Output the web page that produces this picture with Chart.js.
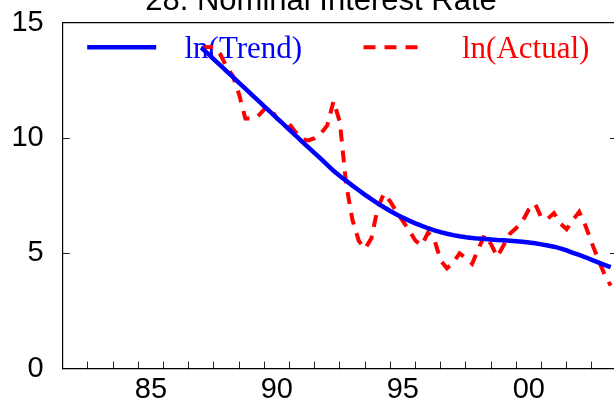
<!DOCTYPE html>
<html>
<head>
<meta charset="utf-8">
<script src="https://cdn.jsdelivr.net/npm/chart.js@4"></script>
<style>
  html, body { margin: 0; padding: 0; background: #fff; overflow: hidden; }
  #wrap { position: absolute; left: 0; top: -30px; width: 635px; height: 442px; }
</style>
</head>
<body>
<div id="wrap"><canvas id="chart" width="635" height="442"></canvas></div>
<script>
// quarterly observations, 1987Q3 - 2003Q4
var quarters = [
  '87Q3','87Q4',
  '88Q1','88Q2','88Q3','88Q4', '89Q1','89Q2','89Q3','89Q4',
  '90Q1','90Q2','90Q3','90Q4', '91Q1','91Q2','91Q3','91Q4',
  '92Q1','92Q2','92Q3','92Q4', '93Q1','93Q2','93Q3','93Q4',
  '94Q1','94Q2','94Q3','94Q4', '95Q1','95Q2','95Q3','95Q4',
  '96Q1','96Q2','96Q3','96Q4', '97Q1','97Q2','97Q3','97Q4',
  '98Q1','98Q2','98Q3','98Q4', '99Q1','99Q2','99Q3','99Q4',
  '00Q1','00Q2','00Q3','00Q4', '01Q1','01Q2','01Q3','01Q4',
  '02Q1','02Q2','02Q3','02Q4', '03Q1','03Q2','03Q3','03Q4'
];

var trend = [
  13.93, 13.68, 13.42, 13.17, 12.91, 12.66, 12.40, 12.15, 11.89, 11.64,
  11.38, 11.13, 10.87, 10.62, 10.36, 10.11, 9.85, 9.60, 9.35, 9.10,
  8.84, 8.58, 8.36, 8.15, 7.94, 7.74, 7.54, 7.35, 7.17, 7.00,
  6.84, 6.69, 6.55, 6.42, 6.30, 6.19, 6.09, 6.00, 5.92, 5.85,
  5.79, 5.74, 5.70, 5.67, 5.64, 5.62, 5.60, 5.58, 5.57, 5.55,
  5.53, 5.50, 5.47, 5.44, 5.39, 5.34, 5.29, 5.22, 5.13, 5.02,
  4.93, 4.83, 4.72, 4.61, 4.50, 4.40
];

var actual = [
  13.9, 13.95, 13.95, 13.65, 13.1, 12.7, 11.9, 10.85, 10.85, 10.95,
  11.25, 11.3, 10.85, 10.65, 10.6, 10.25, 9.95, 9.9, 10.0, 10.2,
  10.55, 11.6, 10.7, 8.0, 6.45, 5.55, 5.2, 5.65, 6.95, 7.6,
  7.25, 6.8, 6.4, 6.0, 5.55, 5.35, 5.9, 5.6, 4.7, 4.35,
  4.6, 5.0, 4.8, 4.55, 5.2, 5.8, 5.4, 4.85, 5.35, 5.85,
  6.1, 6.4, 6.9, 7.15, 6.55, 6.5, 6.75, 6.3, 6.05, 6.45,
  6.8, 6.2, 5.45, 4.75, 4.1, 3.6
];

var xRange = [1982, 2004];
var xLabelYears = [1985, 1990, 1995, 2000];
var xLabels = ['85', '90', '95', '00'];
var yTicks = [0, 5, 10, 15];

function quarterToYear(q) {
  var yy = parseInt(q.slice(0, 2), 10);
  var year = yy < 50 ? 2000 + yy : 1900 + yy;
  return year + (parseInt(q.slice(3), 10) - 1) / 4;
}

function points(values) {
  return quarters.map(function (q, i) {
    return { x: quarterToYear(q), y: values[i] };
  });
}

var sans = '"Liberation Sans", Arial, Helvetica, sans-serif';
var serif = '"Liberation Serif", "Times New Roman", serif';

// legend drawn inside the plot, under the lines
var insideLegend = {
  id: 'insideLegend',
  beforeDatasetsDraw: function (chart) {
    var ctx = chart.ctx, a = chart.chartArea;
    var items = [
      { ds: 0, x0: 24.5, len: 69, tx: 121.8 },
      { ds: 1, x0: 300.8, len: 57.5, tx: 399.3 }
    ];
    ctx.save();
    items.forEach(function (it) {
      var d = chart.data.datasets[it.ds];
      var ly = a.top + 24.3;
      ctx.beginPath();
      ctx.setLineDash(d.borderDash || []);
      ctx.lineWidth = d.borderWidth;
      ctx.strokeStyle = d.borderColor;
      ctx.moveTo(a.left + it.x0, ly);
      ctx.lineTo(a.left + it.x0 + it.len, ly);
      ctx.stroke();
      ctx.setLineDash([]);
      ctx.fillStyle = d.borderColor;
      ctx.font = '31px ' + serif;
      ctx.textBaseline = 'alphabetic';
      ctx.textAlign = 'left';
      ctx.fillText(d.label, a.left + it.tx, a.top + 35.3);
    });
    ctx.restore();
  }
};

new Chart(document.getElementById('chart'), {
  type: 'line',
  data: {
    datasets: [
      {
        label: 'ln(Trend)',
        data: points(trend),
        borderColor: '#0000ff',
        borderWidth: 4.5,
        pointRadius: 0,
        tension: 0,
        fill: false
      },
      {
        label: 'ln(Actual)',
        data: points(actual),
        borderColor: '#ff0000',
        borderWidth: 4,
        borderDash: [12, 9],
        pointRadius: 0,
        tension: 0,
        fill: false
      }
    ]
  },
  options: {
    responsive: false,
    devicePixelRatio: 1,
    animation: false,
    layout: { padding: { left: 10, right: 3, top: 0, bottom: 0 } },
    plugins: {
      legend: { display: false },
      tooltip: { enabled: false },
      title: {
        display: true,
        text: '28. Nominal Interest Rate',
        color: '#000',
        font: { family: sans, size: 31, weight: 'normal' },
        padding: { top: 12.4, bottom: 3.3 }
      }
    },
    scales: {
      x: {
        type: 'linear',
        position: 'bottom',
        min: xRange[0],
        max: xRange[1],
        afterBuildTicks: function (scale) {
          var t = [];
          for (var v = xRange[0]; v <= xRange[1]; v += 0.5) t.push({ value: v });
          scale.ticks = t;
        },
        afterFit: function (scale) { scale.height = 40; },
        grid: {
          drawOnChartArea: false,
          drawTicks: true,
          tickLength: -7,
          lineWidth: 1,
          color: function (c) {
            return c.tick && c.tick.value % 1 === 0 ? '#222' : 'rgba(0,0,0,0)';
          }
        },
        border: { display: true, color: '#000', width: 1.2 },
        ticks: {
          autoSkip: false,
          maxRotation: 0,
          minRotation: 0,
          padding: 10.6,
          color: '#000',
          font: { family: sans, size: 29 },
          callback: function (value) {
            var i = xLabelYears.indexOf(value - 0.5);
            return i >= 0 ? xLabels[i] : '';
          }
        }
      },
      xTop: {
        type: 'linear',
        position: 'top',
        min: xRange[0],
        max: xRange[1],
        afterFit: function (scale) { scale.height = 0; },
        grid: { display: false, drawTicks: false },
        ticks: { display: false },
        border: { display: true, color: '#000', width: 1.2 }
      },
      y: {
        position: 'left',
        min: 0,
        max: 15,
        afterBuildTicks: function (scale) {
          scale.ticks = yTicks.map(function (v) { return { value: v }; });
        },
        afterFit: function (scale) { scale.width = 52.7; },
        grid: { drawOnChartArea: false, drawTicks: true, tickLength: -7, color: '#222', lineWidth: 1 },
        border: { display: true, color: '#000', width: 1.2 },
        ticks: {
          padding: 26,
          color: '#000',
          font: { family: sans, size: 29 }
        }
      },
      yRight: {
        position: 'right',
        min: 0,
        max: 15,
        afterBuildTicks: function (scale) {
          scale.ticks = yTicks.map(function (v) { return { value: v }; });
        },
        afterFit: function (scale) { scale.width = 15; },
        grid: { drawOnChartArea: false, drawTicks: true, tickLength: -7, color: '#222', lineWidth: 1 },
        border: { display: true, color: '#000', width: 1.2 },
        ticks: { display: false }
      }
    }
  },
  plugins: [insideLegend]
});
</script>
</body>
</html>
